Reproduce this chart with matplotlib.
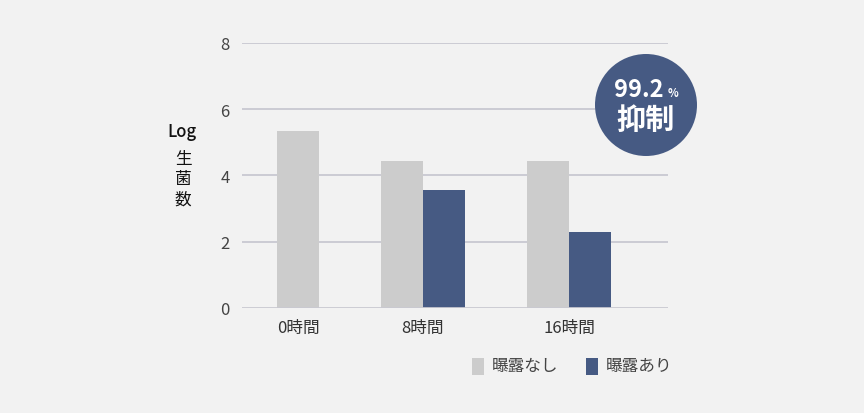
import matplotlib
matplotlib.use("Agg")
import matplotlib.pyplot as plt
from matplotlib.patches import Rectangle, Ellipse

plt.rcParams['font.family'] = ['Noto Sans CJK JP', 'DejaVu Sans']

categories = ["0時間", "8時間", "16時間"]
no_exposure = [5.33, 4.43, 4.43]
exposure = [None, 3.56, 2.28]
yticks = [0, 2, 4, 6, 8]
series_names = ["曝露なし", "曝露あり"]

# layout (pixel-like units along x)
group_centers = [56, 181, 327]
bar_w = 42

GRAY = "#cccccc"
BLUE = "#465a83"
BG = "#f2f2f2"
GRID = "#c9c9d1"
TXT = "#444444"

fig = plt.figure(figsize=(8.64, 4.14), dpi=100, facecolor=BG)
ax = fig.add_axes([242/864, 1-308.7/414, 426/864, (308.7-44)/414])
ax.set_facecolor(BG)
ax.set_xlim(0, 426)
ax.set_ylim(0, 8)

for c, g, b in zip(group_centers, no_exposure, exposure):
    if b is None:
        ax.bar(c, g, width=bar_w, color=GRAY, zorder=3)
    else:
        ax.bar(c - bar_w/2, g, width=bar_w, color=GRAY, zorder=3)
        ax.bar(c + bar_w/2, b, width=bar_w, color=BLUE, zorder=3)

for y in yticks:
    ax.axhline(y, color=GRID, lw=1.3 if y else 2.0, zorder=2 if y else 4)

for s in ax.spines.values():
    s.set_visible(False)
ax.set_yticks(yticks)
ax.set_yticklabels([str(v) for v in yticks], fontsize=12, color=TXT)
ax.set_xticks(group_centers)
ax.set_xticklabels(categories, fontsize=12, color="#333333")
ax.tick_params(length=0, pad=8)
ax.tick_params(axis='y', pad=9)

# y label
fig.text(182/864, 1-132/414, "Log", ha='center', va='center', fontsize=12, color="#111111", fontweight='medium')
for i, ch in enumerate("生菌数"):
    fig.text(183/864, 1-(160 + i*20)/414, ch, ha='center', va='center', fontsize=12, color="#111111")

# badge
badge = Ellipse((646/864, 1-106/414), 102/864, 102/414, transform=fig.transFigure,
                facecolor=BLUE, edgecolor='none', zorder=10)
fig.patches.append(badge)
fig.text(638.5/864, 1-97/414, "99.2", ha='center', va='baseline', fontsize=17, color='white',
         fontweight='bold', zorder=11)
fig.text(672.5/864, 1-97/414, "%", ha='center', va='baseline', fontsize=8, color='white',
         fontweight='bold', zorder=11)
fig.text(645.5/864, 1-120/414, "抑制", ha='center', va='center', fontsize=21, color='white',
         fontweight='bold', zorder=11)

# legend
leg = [(472, GRAY, series_names[0]), (586, BLUE, series_names[1])]
for x0, col, name in leg:
    fig.patches.append(Rectangle((x0/864, 1-376/414), 12/864, 17/414, transform=fig.transFigure,
                                 facecolor=col, edgecolor='none'))
    fig.text((x0+20)/864, 1-367/414, name, ha='left', va='center', fontsize=12, color=TXT)

fig.savefig("out.png", dpi=100, facecolor=BG)
